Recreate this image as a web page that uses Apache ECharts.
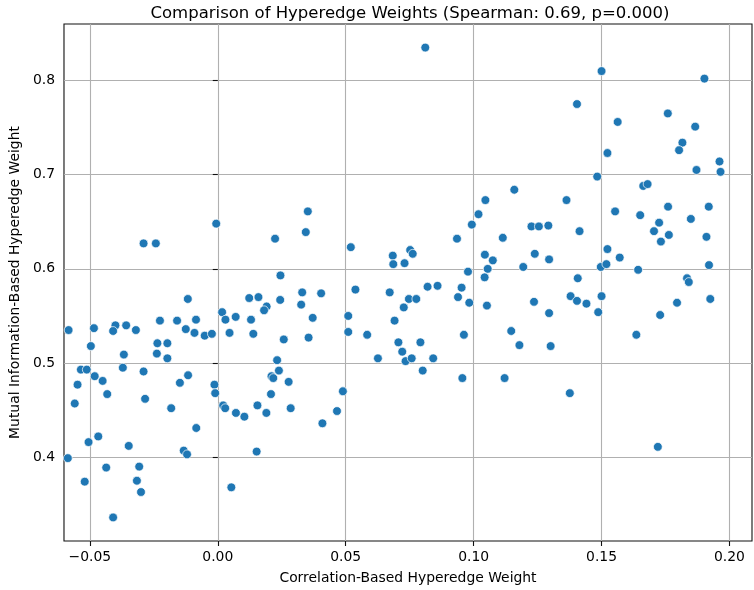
<!DOCTYPE html>
<html>
<head>
<meta charset="utf-8">
<script src="https://cdn.jsdelivr.net/npm/echarts@6/dist/echarts.min.js"></script>
<style>
  html, body { margin: 0; padding: 0; background: #fff; }
  #chart { width: 754px; height: 590px; }
</style>
</head>
<body>
<div id="chart"></div>
<script>
// correlation-based weight (x) and mutual-information weight (y)
const corrWeights = [
  -0.0583, -0.0484, -0.0496, -0.0400, -0.0409, -0.0358, -0.0320, -0.0367, -0.0371, -0.0535,
  -0.0512, -0.0548, -0.0481, -0.0450, -0.0432, -0.0559, -0.0290, -0.0284, -0.0236, -0.0197,
  -0.0238, -0.0197, -0.0226, -0.0159, -0.0117, -0.0125, -0.0085, -0.0091, -0.0051, -0.0023,
  -0.0148, -0.0116, -0.0182, -0.0013, -0.0010, -0.0084, -0.0505, -0.0467, -0.0348, -0.0586,
  -0.0436, -0.0307, -0.0520, -0.0316, -0.0300, -0.0133, -0.0120, -0.0409, -0.0290, -0.0242,
  -0.0006, 0.0352, 0.0344, 0.0224, 0.0520, 0.0245, 0.0330, 0.0404, 0.0538, 0.0123,
  0.0159, 0.0244, 0.0326, 0.0191, 0.0181, 0.0017, 0.0030, 0.0070, 0.0130, 0.0371,
  0.0510, 0.0046, 0.0139, 0.0258, 0.0355, 0.0510, 0.0232, 0.0239, 0.0210, 0.0217,
  0.0277, 0.0208, 0.0489, 0.0021, 0.0029, 0.0155, 0.0071, 0.0104, 0.0190, 0.0285,
  0.0466, 0.0409, 0.0152, 0.0053, 0.0993, 0.0935, 0.0684, 0.0752, 0.0762, 0.0686,
  0.0730, 0.0978, 0.0672, 0.0820, 0.0859, 0.0953, 0.0939, 0.0983, 0.0747, 0.0776,
  0.0727, 0.0691, 0.0584, 0.0962, 0.0706, 0.0792, 0.0721, 0.0626, 0.0734, 0.0758,
  0.0842, 0.0801, 0.0956, 0.0811, 0.1500, 0.1404, 0.1523, 0.1483, 0.1159, 0.1046,
  0.1363, 0.1019, 0.1226, 0.1255, 0.1292, 0.1414, 0.1114, 0.1044, 0.1075, 0.1239,
  0.1295, 0.1055, 0.1194, 0.1043, 0.1407, 0.1497, 0.1519, 0.1523, 0.1052, 0.1236,
  0.1295, 0.1379, 0.1404, 0.1441, 0.1500, 0.1487, 0.1147, 0.1179, 0.1301, 0.1121,
  0.1376, 0.1902, 0.1759, 0.1563, 0.1866, 0.1816, 0.1803, 0.1961, 0.1871, 0.1965,
  0.1663, 0.1680, 0.1760, 0.1919, 0.1553, 0.1651, 0.1849, 0.1725, 0.1705, 0.1763,
  0.1910, 0.1732, 0.1571, 0.1643, 0.1920, 0.1834, 0.1841, 0.1925, 0.1795, 0.1729,
  0.1636, 0.1720
];
const miWeights = [
  0.535, 0.537, 0.518, 0.540, 0.534, 0.540, 0.535, 0.509, 0.495, 0.493,
  0.493, 0.477, 0.486, 0.481, 0.467, 0.457, 0.491, 0.462, 0.521, 0.521,
  0.510, 0.505, 0.545, 0.545, 0.568, 0.536, 0.546, 0.532, 0.529, 0.531,
  0.479, 0.487, 0.452, 0.477, 0.468, 0.431, 0.416, 0.422, 0.412, 0.399,
  0.389, 0.390, 0.374, 0.375, 0.363, 0.407, 0.403, 0.336, 0.627, 0.627,
  0.648, 0.661, 0.639, 0.632, 0.623, 0.593, 0.575, 0.574, 0.578, 0.569,
  0.570, 0.567, 0.562, 0.560, 0.556, 0.554, 0.546, 0.549, 0.546, 0.548,
  0.550, 0.532, 0.531, 0.525, 0.527, 0.533, 0.503, 0.492, 0.486, 0.484,
  0.480, 0.467, 0.470, 0.455, 0.452, 0.455, 0.447, 0.443, 0.447, 0.452,
  0.449, 0.436, 0.406, 0.368, 0.647, 0.632, 0.614, 0.620, 0.616, 0.605,
  0.606, 0.597, 0.575, 0.581, 0.582, 0.580, 0.570, 0.564, 0.568, 0.568,
  0.559, 0.545, 0.530, 0.530, 0.522, 0.522, 0.512, 0.505, 0.502, 0.505,
  0.505, 0.492, 0.484, 0.835, 0.810, 0.775, 0.723, 0.698, 0.684, 0.673,
  0.673, 0.658, 0.645, 0.645, 0.646, 0.640, 0.633, 0.615, 0.609, 0.616,
  0.610, 0.600, 0.602, 0.591, 0.590, 0.602, 0.605, 0.621, 0.561, 0.565,
  0.553, 0.571, 0.566, 0.563, 0.571, 0.554, 0.534, 0.519, 0.518, 0.484,
  0.468, 0.802, 0.765, 0.756, 0.751, 0.734, 0.726, 0.714, 0.705, 0.703,
  0.688, 0.690, 0.666, 0.666, 0.661, 0.657, 0.653, 0.649, 0.640, 0.636,
  0.634, 0.629, 0.612, 0.599, 0.604, 0.590, 0.586, 0.568, 0.564, 0.551,
  0.530, 0.411
];

const xTicks = [-0.05, 0.0, 0.05, 0.10, 0.15, 0.20];
const yTicks = [0.4, 0.5, 0.6, 0.7, 0.8];
const xLimits = [-0.0601, 0.2088];
const yLimits = [0.311, 0.860];

const points = corrWeights.map((x, i) => [x, miWeights[i]]);

const FONT = 'DejaVu Sans';
const gridColor = '#b0b0b0';

const chart = echarts.init(document.getElementById('chart'), null, { renderer: 'canvas' });

chart.setOption({
  animation: false,
  backgroundColor: '#fff',
  textStyle: { fontFamily: FONT, color: '#000' },
  title: {
    text: 'Comparison of Hyperedge Weights (Spearman: 0.69, p=0.000)',
    left: 405,
    textAlign: 'center',
    top: 0,
    textStyle: { fontFamily: FONT, fontSize: 16.5, fontWeight: 'normal', color: '#000' },
  },
  grid: {
    left: 57,
    right: 2,
    top: 24,
    bottom: 48,
    show: true,
    borderColor: '#111',
    borderWidth: 1.1,
    containLabel: false,
  },
  xAxis: {
    type: 'value',
    min: xLimits[0],
    max: xLimits[1],
    name: 'Correlation-Based Hyperedge Weight',
    nameLocation: 'middle',
    nameGap: 30,
    nameTextStyle: { fontFamily: FONT, fontSize: 13.9, color: '#000', verticalAlign: 'top' },
    axisLine: { show: false },
    axisTick: {
      show: true,
      customValues: xTicks,
      length: 5,
      lineStyle: { color: '#111', width: 1.1 },
    },
    axisLabel: {
      customValues: xTicks,
      margin: 9,
      fontFamily: FONT,
      fontSize: 13.9,
      color: '#000',
      formatter: (v) => v.toFixed(2).replace('-', '\u2212'),
    },
    splitLine: { show: true, lineStyle: { color: gridColor, width: 1.1 } },
  },
  yAxis: {
    type: 'value',
    min: yLimits[0],
    max: yLimits[1],
    name: 'Mutual Information-Based Hyperedge Weight',
    nameLocation: 'middle',
    nameGap: 40,
    nameRotate: 90,
    nameTextStyle: { fontFamily: FONT, fontSize: 13.9, color: '#000' },
    axisLine: { show: false },
    axisTick: {
      show: true,
      customValues: yTicks,
      length: 5,
      lineStyle: { color: '#111', width: 1.1 },
    },
    axisLabel: {
      customValues: yTicks,
      margin: 9,
      fontFamily: FONT,
      fontSize: 13.9,
      color: '#000',
      formatter: (v) => v.toFixed(1),
    },
    splitLine: { show: true, lineStyle: { color: gridColor, width: 1.1 } },
  },
  series: [{
    type: 'scatter',
    data: points,
    symbol: 'circle',
    symbolSize: 8.8,
    itemStyle: { color: '#1f77b4', borderColor: '#fff', borderWidth: 0.7, opacity: 1 },
    emphasis: { disabled: true },
  }],
});
</script>
</body>
</html>
